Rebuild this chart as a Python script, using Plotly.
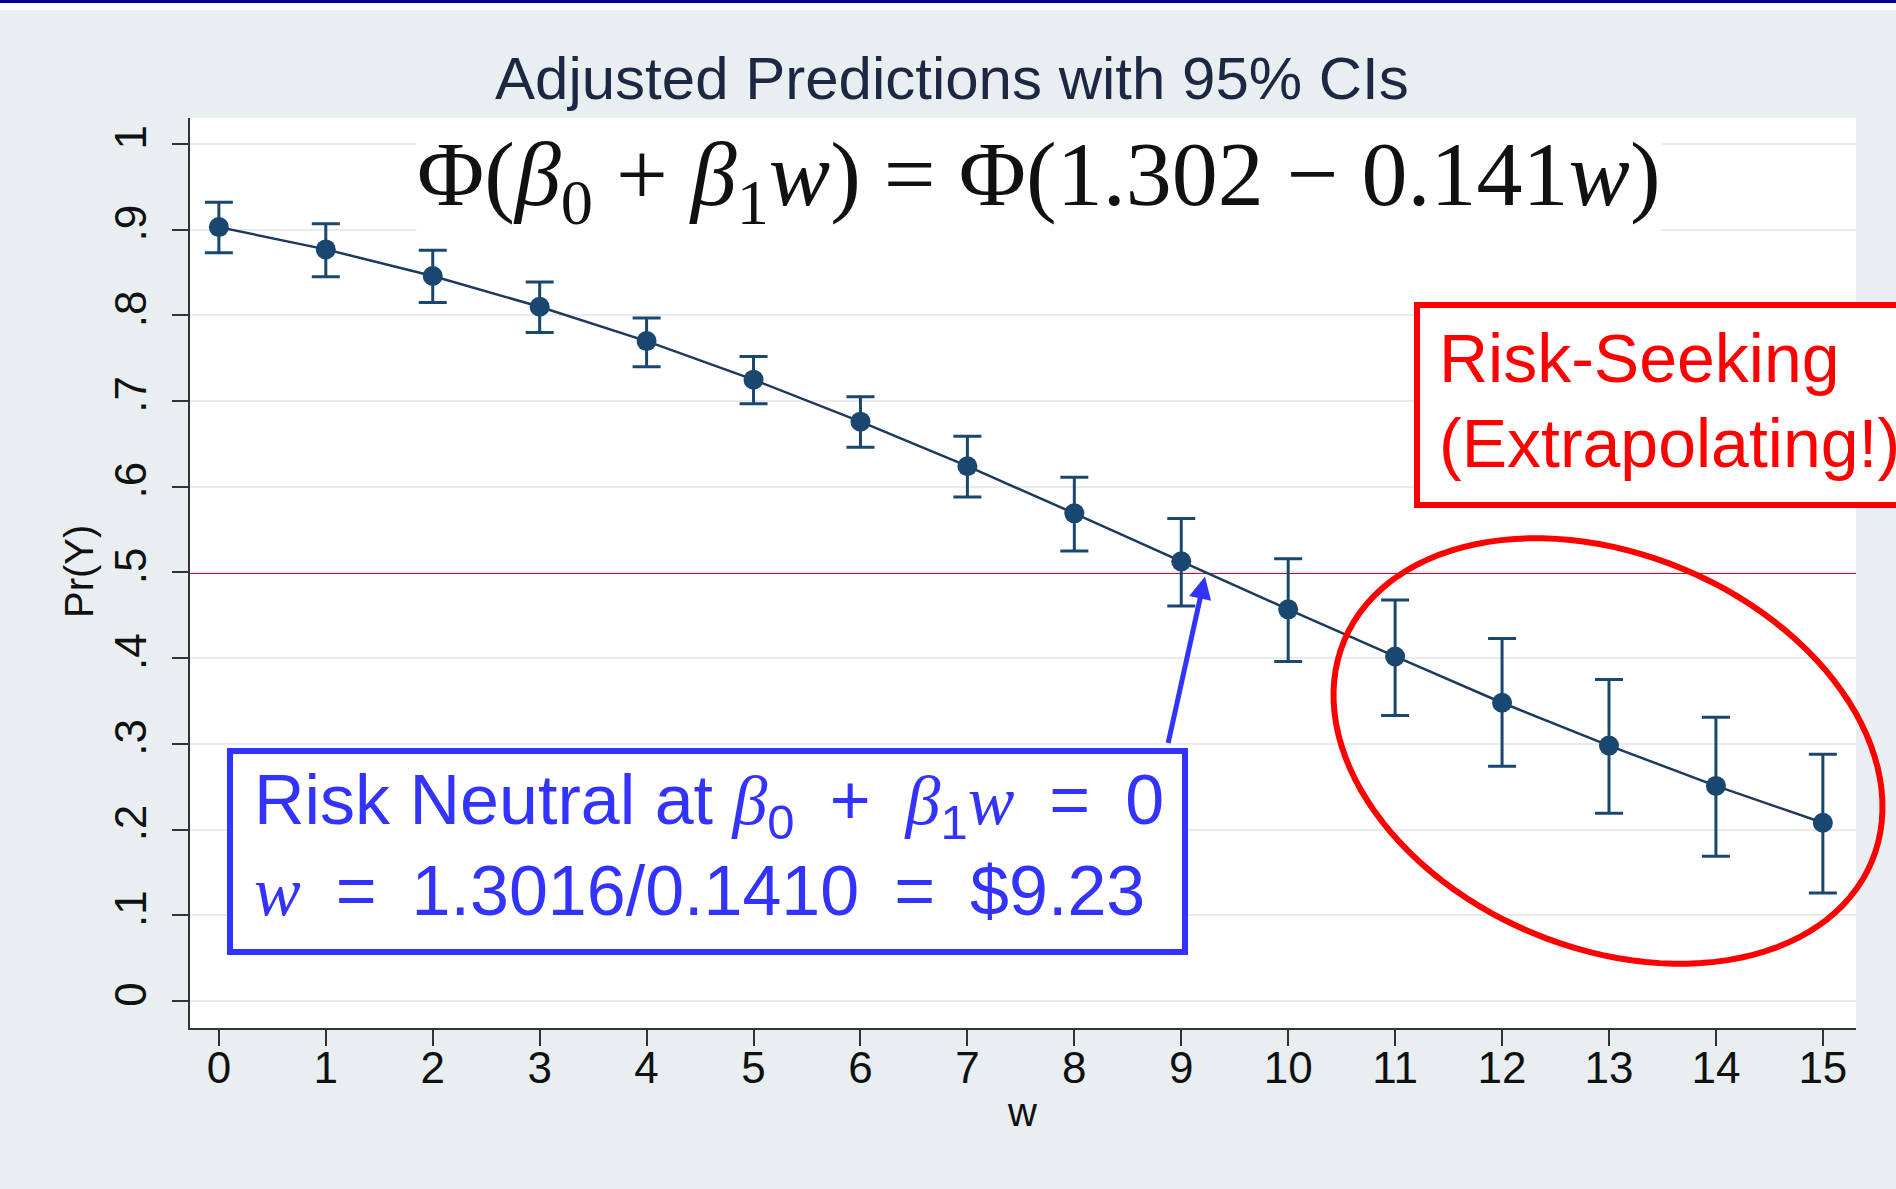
import math
import plotly.graph_objects as go

# ---------------- data ----------------
w_vals = list(range(16))
pr_y = [0.903, 0.877, 0.846, 0.810, 0.770, 0.725, 0.676, 0.624,
        0.569, 0.513, 0.457, 0.402, 0.348, 0.298, 0.251, 0.208]
ci_lo = [0.873, 0.845, 0.815, 0.780, 0.740, 0.697, 0.646, 0.588,
         0.525, 0.461, 0.396, 0.333, 0.274, 0.219, 0.169, 0.126]
ci_hi = [0.932, 0.907, 0.876, 0.839, 0.797, 0.752, 0.705, 0.659,
         0.611, 0.563, 0.516, 0.468, 0.423, 0.375, 0.331, 0.288]
y_tickvals = [0, 0.1, 0.2, 0.3, 0.4, 0.5, 0.6, 0.7, 0.8, 0.9, 1.0]
y_ticktext = ["0", ".1", ".2", ".3", ".4", ".5", ".6", ".7", ".8", ".9", "1"]
x_tickvals = list(range(16))
ref_line_y = 0.5
neutral_w = 9.23

# ---------------- layout geometry (pixels) ----------------
W, H = 1896, 1189
PL, PR, PT, PB = 190, 1856, 118, 1028


def px(x):
    return (x - PL) / (PR - PL)


def py(y):
    return (PB - y) / (PB - PT)


NAVY = "#1a476f"
BLUE = "#3333ff"
RED = "#ff0000"
SANS = "Liberation Sans, Arial, sans-serif"
SERIF = "Liberation Serif, Times New Roman, serif"

err_plus = [h - v for h, v in zip(ci_hi, pr_y)]
err_minus = [v - l for v, l in zip(pr_y, ci_lo)]

fig = go.Figure()
fig.add_trace(go.Scatter(
    x=w_vals, y=pr_y, mode="lines+markers",
    line=dict(color="#1d3a5c", width=2.5),
    marker=dict(color=NAVY, size=20, line=dict(width=0)),
    error_y=dict(type="data", array=err_plus, arrayminus=err_minus,
                 color=NAVY, thickness=3, width=14),
    showlegend=False,
))

shapes = []
# top navy strip + white gap
shapes.append(dict(type="rect", xref="paper", yref="paper",
                   x0=px(0), x1=px(W), y0=py(10), y1=py(0),
                   fillcolor="white", line=dict(width=0), layer="below"))
shapes.append(dict(type="rect", xref="paper", yref="paper",
                   x0=px(0), x1=px(W), y0=py(3), y1=py(0),
                   fillcolor="#000099", line=dict(width=0), layer="below"))
# red reference line at .5
shapes.append(dict(type="line", xref="paper", yref="y",
                   x0=0, x1=1, y0=ref_line_y, y1=ref_line_y,
                   line=dict(color="#b8103c", width=3), layer="between"))
# blue box
shapes.append(dict(type="rect", xref="paper", yref="paper",
                   x0=px(230), x1=px(1185), y0=py(952), y1=py(751),
                   fillcolor="white", line=dict(color=BLUE, width=6), layer="above"))
# red box
shapes.append(dict(type="rect", xref="paper", yref="paper",
                   x0=px(1417), x1=px(1930), y0=py(505), y1=py(305),
                   fillcolor="white", line=dict(color=RED, width=6), layer="above"))
# red tilted ellipse
cx, cy, ea, eb, th = 1608, 751, 286, 197, math.radians(22.8)
pts = []
for i in range(121):
    t = 2 * math.pi * i / 120
    ex = cx + ea * math.cos(t) * math.cos(th) - eb * math.sin(t) * math.sin(th)
    ey = cy + ea * math.cos(t) * math.sin(th) + eb * math.sin(t) * math.cos(th)
    pts.append(f"{px(ex):.5f},{py(ey):.5f}")
shapes.append(dict(type="path", xref="paper", yref="paper",
                   path="M " + " L ".join(pts) + " Z",
                   line=dict(color=RED, width=6), layer="above"))

annotations = []
# title
annotations.append(dict(text="Adjusted Predictions with 95% CIs",
                        xref="paper", yref="paper", x=px(952), y=py(79),
                        xanchor="center", yanchor="middle", showarrow=False,
                        font=dict(family=SANS, size=60, color="#1c2744")))
# formula
annotations.append(dict(
    text="Φ(<i>β</i><sub>0</sub> + <i>β</i><sub>1</sub><i>w</i>) = Φ(1.302 − 0.141<i>w</i>)",
    xref="paper", yref="paper", x=px(1039), y=py(181),
    xanchor="center", yanchor="middle", showarrow=False, bgcolor="white",
    borderpad=0, font=dict(family=SERIF, size=92, color="#111111")))
# axis titles
annotations.append(dict(text="w", xref="paper", yref="paper", x=px(1022), y=py(1112),
                        xanchor="center", yanchor="middle", showarrow=False,
                        font=dict(family=SANS, size=40, color="#111111")))
annotations.append(dict(text="Pr(Y)", xref="paper", yref="paper", x=px(79), y=py(572),
                        xanchor="center", yanchor="middle", showarrow=False, textangle=-90,
                        font=dict(family=SANS, size=40, color="#111111")))
# blue box texts
ES = "&#8194;"  # en space, mimics LaTeX math spacing
mspan = '<span style="font-family:Liberation Serif, serif"><i>%s</i></span>'
line1 = ("Risk Neutral at " + mspan % "β" + "<sub>0</sub>" + ES + "+" + ES + mspan % "β"
         + "<sub>1</sub>" + mspan % "w" + ES + "=" + ES + "0")
line2 = mspan % "w" + ES + "=" + ES + "1.3016/0.1410" + ES + "=" + ES + "$9.23"
annotations.append(dict(text=line1, xref="paper", yref="paper", x=px(252), y=py(805),
                        xanchor="left", yanchor="middle", showarrow=False,
                        font=dict(family=SANS, size=70, color=BLUE)))
annotations.append(dict(text=line2, xref="paper", yref="paper", x=px(252), y=py(891),
                        xanchor="left", yanchor="middle", showarrow=False,
                        font=dict(family=SANS, size=70, color=BLUE)))
# red box texts
annotations.append(dict(text="Risk-Seeking", xref="paper", yref="paper", x=px(1437), y=py(358),
                        xanchor="left", yanchor="middle", showarrow=False,
                        font=dict(family=SANS, size=68, color=RED)))
annotations.append(dict(text="(Extrapolating!)", xref="paper", yref="paper", x=px(1437), y=py(443),
                        xanchor="left", yanchor="middle", showarrow=False,
                        font=dict(family=SANS, size=68, color=RED)))
# arrow
annotations.append(dict(text="", x=neutral_w, y=ref_line_y, xref="x", yref="y",
                        showarrow=True, ax=-38, ay=172, axref="pixel", ayref="pixel",
                        arrowhead=2, arrowsize=0.9, arrowwidth=5, arrowcolor=BLUE,
                        standoff=4))

fig.update_layout(
    width=W, height=H,
    margin=dict(l=PL, r=W - PR, t=PT, b=H - PB, pad=0),
    paper_bgcolor="#e9eff1", plot_bgcolor="white",
    shapes=shapes, annotations=annotations,
    xaxis=dict(range=[-0.27, 15.31], tickvals=x_tickvals, showgrid=False, zeroline=False,
               showline=True, linecolor="#333333", linewidth=2,
               ticks="outside", ticklen=16, tickwidth=2, tickcolor="#333333",
               ticklabelstandoff=-16,
               tickfont=dict(family=SANS, size=44, color="#111111")),
    yaxis=dict(range=[-0.0315, 1.0303], tickvals=y_tickvals, ticktext=y_ticktext,
               tickangle=-90, showgrid=True, gridcolor="#ebebeb", gridwidth=2,
               zeroline=False, showline=True, linecolor="#333333", linewidth=2,
               ticks="outside", ticklen=16, tickwidth=2, tickcolor="#333333",
               ticklabelstandoff=8,
               tickfont=dict(family=SANS, size=44, color="#111111")),
)

fig.write_html("out.html", config={"displayModeBar": False},
               post_script="document.body.style.margin='0';document.body.style.overflow='hidden';")
